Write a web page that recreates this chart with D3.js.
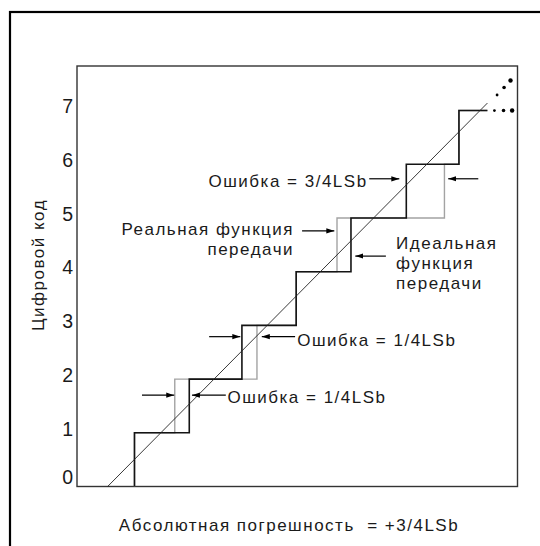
<!DOCTYPE html>
<html>
<head>
<meta charset="utf-8">
<script src="https://cdn.jsdelivr.net/npm/d3@7/dist/d3.min.js"></script>
<style>
  html, body { margin: 0; padding: 0; background: #fff; }
  svg { display: block; }
  text { font-family: 'Liberation Sans', Arial, sans-serif; fill: #1a1a1a; }
  .note { letter-spacing: 1.5px; }
</style>
</head>
<body>
<div id="chart-root"></div>
<script>
// codes on the vertical axis
const codes = [0, 1, 2, 3, 4, 5, 6, 7];
const codeLabels = ['0', '1', '2', '3', '4', '5', '6', '7'];

// transition points (in LSB) between code k and k+1
const idealTransitions = [0.50, 1.52, 2.50, 3.51, 4.53, 5.56, 6.54];
const realTransitions = [0.50, 1.25, 2.78, 3.51, 4.27, 6.27, 6.54];
const lastStepEnd = 7.07;

// ideal straight line (lsb, code)
const diagonal = [[0, 0], [7.07, 7.14]];

// continuation dots
const dotsLevel = [[7.20, 7], [7.37, 7], [7.53, 7]];
const dotsDiag = [[7.25, 7.29], [7.38, 7.43], [7.50, 7.56]];
const dotSizes = [1.4, 1.8, 2.2];

// arrows: [from lsb, to lsb, code]
const arrows = [
  [0.64, 1.24, 1.70], [2.20, 1.57, 1.70],
  [1.89, 2.47, 2.79], [3.49, 2.87, 2.79],
  [4.87, 5.43, 5.73], [6.90, 6.34, 5.73],
  [3.62, 4.22, 4.76],
  [5.18, 4.61, 4.29]
];

// annotation texts: [lsb, code, anchor, text]
const notes = [
  [2.23, 1.66, 'start', 'Ошибка = 1/4LSb'],
  [3.53, 2.72, 'start', 'Ошибка = 1/4LSb'],
  [4.84, 5.68, 'end', 'Ошибка = 3/4LSb'],
  [3.47, 4.79, 'end', 'Реальная функция'],
  [3.47, 4.42, 'end', 'передачи'],
  [5.37, 4.53, 'start', 'Идеальная'],
  [5.37, 4.16, 'start', 'функция'],
  [5.37, 3.79, 'start', 'передачи']
];

const yTitle = 'Цифровой код';
const xTitle = 'Абсолютная погрешность  = +3/4LSb';

var width = 540, height = 546;
var box = {left: 77, right: 517.5, top: 66, bottom: 486.5};

var svg = d3.select('#chart-root')
    .append('svg')
    .attr('width', width)
    .attr('height', height);

// outer frame, runs off the page on the right and bottom
svg.append('rect')
    .attr('x', 10).attr('y', 12)
    .attr('width', 600).attr('height', 600)
    .attr('fill', 'none')
    .attr('stroke', '#000')
    .attr('stroke-width', 2.2);

var x = d3.scaleLinear().domain([-0.57, 7.63]).range([box.left, box.right]);
var y = d3.scaleLinear().domain([0, 7.83]).range([box.bottom, box.top]);

svg.append('defs').append('marker')
    .attr('id', 'arrow')
    .attr('markerUnits', 'userSpaceOnUse')
    .attr('viewBox', '0 -4 8 8')
    .attr('refX', 8).attr('refY', 0)
    .attr('markerWidth', 8).attr('markerHeight', 8)
    .attr('orient', 'auto')
    .append('path')
    .attr('d', 'M0,-2.6L8,0L0,2.6Z')
    .attr('fill', '#000');

// plot box
svg.append('rect')
    .attr('x', box.left).attr('y', box.top)
    .attr('width', box.right - box.left)
    .attr('height', box.bottom - box.top)
    .attr('fill', 'none')
    .attr('stroke', '#333')
    .attr('stroke-width', 1.4);

// y tick labels
var y_axis = svg.append('g')
    .attr('transform', 'translate(' + box.left + ',0)')
    .call(d3.axisLeft(y).tickValues(codes).tickSize(0).tickPadding(4)
        .tickFormat((d, i) => codeLabels[i]));
y_axis.select('.domain').remove();
y_axis.selectAll('text')
    .attr('font-size', 19.5)
    .attr('font-family', null)
    .attr('y', (d) => d === 0 ? -9.5 : -4);

const stairs = (tr) => {
  let pts = [[tr[0], 0]];
  tr.forEach((t, i) => {
    pts.push([t, i + 1]);
    pts.push([i + 1 < tr.length ? tr[i + 1] : lastStepEnd, i + 1]);
  });
  return pts;
};

var line = d3.line().x((d) => x(d[0])).y((d) => y(d[1]));

svg.append('path')
    .attr('d', line(stairs(realTransitions)))
    .attr('fill', 'none')
    .attr('stroke', '#a3a3a3')
    .attr('stroke-width', 1.4);

svg.append('path')
    .attr('d', line(stairs(idealTransitions)))
    .attr('fill', 'none')
    .attr('stroke', '#141414')
    .attr('stroke-width', 1.6);

svg.append('path')
    .attr('d', line(diagonal))
    .attr('fill', 'none')
    .attr('stroke', '#222')
    .attr('stroke-width', 0.9);

svg.append('g').selectAll('circle')
    .data(dotsLevel.concat(dotsDiag))
    .join('circle')
    .attr('cx', (d) => x(d[0]))
    .attr('cy', (d) => y(d[1]))
    .attr('r', (d, i) => dotSizes[i % 3])
    .attr('fill', '#000');

svg.append('g').selectAll('line')
    .data(arrows)
    .join('line')
    .attr('x1', (d) => x(d[0]))
    .attr('x2', (d) => x(d[1]))
    .attr('y1', (d) => y(d[2]))
    .attr('y2', (d) => y(d[2]))
    .attr('stroke', '#000')
    .attr('stroke-width', 1.2)
    .attr('marker-end', 'url(#arrow)');

svg.append('g').selectAll('text')
    .data(notes)
    .join('text')
    .attr('class', 'note')
    .attr('x', (d) => x(d[0]))
    .attr('y', (d) => y(d[1]))
    .attr('dy', '0.35em')
    .attr('text-anchor', (d) => d[2])
    .attr('font-size', 17)
    .text((d) => d[3]);

svg.append('text')
    .attr('class', 'note')
    .attr('transform', 'translate(38,265) rotate(-90)')
    .attr('dy', '0.35em')
    .attr('text-anchor', 'middle')
    .attr('font-size', 17)
    .text(yTitle);

svg.append('text')
    .attr('class', 'note')
    .attr('x', 289).attr('y', 525)
    .attr('dy', '0.35em')
    .attr('text-anchor', 'middle')
    .attr('font-size', 17)
    .style('white-space', 'pre')
    .text(xTitle);
</script>
</body>
</html>
